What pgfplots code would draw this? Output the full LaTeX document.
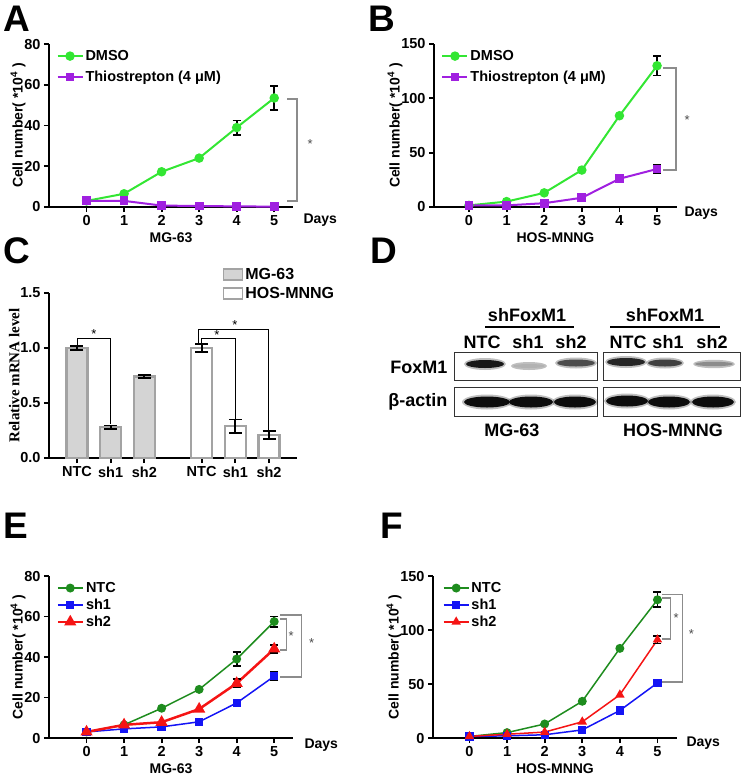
\documentclass[border=0pt]{standalone}
\usepackage{fontspec}
\setmainfont{Liberation Sans}
\newfontfamily\timesfont{Liberation Serif}
\usepackage{pgfplots}
\pgfplotsset{compat=1.18}

\definecolor{dmso}{HTML}{33E633}
\definecolor{thio}{HTML}{A020E0}
\definecolor{ntc}{HTML}{1E8C1E}
\definecolor{shone}{HTML}{1414F5}
\definecolor{shtwo}{HTML}{F51414}
\definecolor{barfill}{HTML}{D4D4D4}
\definecolor{baredge}{HTML}{A3A3A3}
\definecolor{brk}{HTML}{8C8C8C}

\newcommand\fsz[2]{\fontsize{#1}{#2}\selectfont\bfseries}
\newcommand\sig{\fontsize{13}{15}\selectfont\mdseries *}

% blot band: x, y, half width, half height, darkness
\newcommand\band[5]{%
  \fill[black, opacity=0.25] (#1pt,-#2pt) ellipse ({#3pt+2pt} and {#4pt+2pt});
  \fill[black!#5] (#1pt,-#2pt) ellipse (#3pt and #4pt);}

\pgfplotsset{
  panel/.style={
    scale only axis, clip=false,
    axis lines=left, axis line style={-, line width=2pt},
    tick style={line width=1.8pt, black}, major tick length=5pt, tick align=outside,
    ticklabel style={font=\fsz{14.5}{17}},
    /pgf/number format/assume math mode=true,
    label style={font=\fsz{14}{17}},
    error bars/error bar style={draw=black, line width=1.8pt},
    error bars/error mark options={draw=black, rotate=90, mark size=4pt, line width=1.8pt},
  },
  growth/.style={
    panel, xtick={0,...,5}, ymin=0,
    ylabel={Cell number( *10\textsuperscript{4} )},
    ylabel style={yshift=-8pt},
    every axis plot/.append style={line width=2pt},
    legend style={draw=none, fill=none, font=\fsz{14.5}{17}, anchor=north west,
      inner sep=0pt, row sep=5pt, cells={anchor=west}},
    legend image code/.code={\draw[mark repeat=2, mark phase=2, ##1]
      plot coordinates {(0pt,0pt) (12.5pt,0pt) (25pt,0pt)};},
  },
  circ/.style={mark=*, mark size=3.7pt},
  sq/.style={mark=square*, mark size=3.4pt},
  tri/.style={mark=triangle*, mark size=4.6pt},
  errs/.style={forget plot, draw=none, mark=none,
    error bars/.cd, y dir=both, y explicit},
}

\begin{document}
\begin{tikzpicture}
\path[use as bounding box] (0,0) rectangle (750pt,-777pt);

\begin{scope}[font=\fsz{37}{40}]
\node[anchor=base west, inner sep=0] at (3pt,-31pt) {A};
\node[anchor=base west, inner sep=0] at (368pt,-31pt) {B};
\node[anchor=base west, inner sep=0] at (3pt,-263pt) {C};
\node[anchor=base west, inner sep=0] at (370pt,-263pt) {D};
\node[anchor=base west, inner sep=0] at (3pt,-538pt) {E};
\node[anchor=base west, inner sep=0] at (380pt,-538pt) {F};
\end{scope}

% ---------- A
\begin{axis}[growth, at={(49pt,-207pt)}, width=244pt, height=163pt,
    xmin=-1, xmax=5.5, ymax=80, ytick={0,20,...,80},
    xlabel={MG-63},
    legend style={at={(axis description cs:0.03,0.975)}}]
\addplot[color=dmso, circ] coordinates {(0,3)(1,6.5)(2,17.3)(3,24)(4,39)(5,53.5)};
\addlegendentry{DMSO}
\addplot[color=thio, sq] coordinates {(0,3)(1,3)(2,0.7)(3,0.5)(4,0.3)(5,0.2)};
\addlegendentry{Thiostrepton (4 μM)}
\addplot[errs] coordinates {(4,39) +- (0,3.5) (5,53.5) +- (0,6)};
\draw[brk, line width=1.3pt] (axis cs:5.35,53) -- (axis cs:5.61,53) -- (axis cs:5.61,3) -- (axis cs:5.35,3);
\node[text=black!70] at (axis cs:5.96,30.9) {\sig};
\node[anchor=west, font=\fsz{14}{17}] at (rel axis cs:1,0) [xshift=7pt, yshift=-13pt] {Days};
\end{axis}

% ---------- B
\begin{axis}[growth, at={(434pt,-207pt)}, width=243pt, height=163pt,
    xmin=-0.93, xmax=5.53, ymax=150, ytick={0,50,100,150},
    xlabel={HOS-MNNG},
    legend style={at={(axis description cs:0.03,0.975)}}]
\addplot[color=dmso, circ] coordinates {(0,1.5)(1,5)(2,13)(3,34)(4,84)(5,130)};
\addlegendentry{DMSO}
\addplot[color=thio, sq] coordinates {(0,1.5)(1,1.5)(2,3.5)(3,8.5)(4,26)(5,35)};
\addlegendentry{Thiostrepton (4 μM)}
\addplot[errs] coordinates {(5,130) +- (0,9) (5,35) +- (0,4)};
\draw[brk, line width=1.3pt] (axis cs:5.16,128) -- (axis cs:5.5,128) -- (axis cs:5.5,34) -- (axis cs:5.16,34);
\node[text=black!70] at (axis cs:5.8,80) {\sig};
\node[anchor=west, font=\fsz{14}{17}] at (rel axis cs:1,0) [xshift=4pt, yshift=-6pt] {Days};
\end{axis}

% ---------- C
\begin{axis}[panel, at={(49pt,-458pt)}, width=248pt, height=165pt,
    xmin=-0.83, xmax=6.53, ymin=0, ymax=1.5, ytick={0,0.5,1,1.5},
    yticklabel style={/pgf/number format/.cd, fixed, fixed zerofill, precision=1},
    xtick={0,1,2,3.7,4.7,5.7}, xticklabels={NTC,sh1,sh2,NTC,sh1,sh2},
    ylabel={\timesfont\fontsize{15}{17}\selectfont\bfseries Relative mRNA level},
    ylabel style={yshift=-6pt},
    error bars/error mark options={draw=black, rotate=90, mark size=6.5pt, line width=1.8pt},
    legend style={draw=none, fill=none, font=\fsz{16}{19}, anchor=north west,
      at={(axis description cs:0.70,1.16)}, inner sep=0pt, row sep=2pt, cells={anchor=west}},
    legend image code/.code={\draw[#1, line width=1.5pt] (0pt,-5pt) rectangle (19pt,6pt);}]
\addplot[ybar, bar width=21pt, bar shift=0pt, fill=barfill, draw=baredge, line width=2.5pt,
    error bars/.cd, y dir=both, y explicit]
  coordinates {(0,1.0) +- (0,0.015) (1,0.28) +- (0,0.015) (2,0.74) +- (0,0.015)};
\addlegendentry{MG-63}
\addplot[ybar, bar width=21pt, bar shift=0pt, fill=white, draw=baredge, line width=2.5pt,
    error bars/.cd, y dir=both, y explicit]
  coordinates {(3.7,1.0) +- (0,0.035) (4.7,0.29) +- (0,0.06) (5.7,0.21) +- (0,0.035)};
\addlegendentry{HOS-MNNG}
\draw[black, line width=0.8pt] (axis cs:0,1.02) -- (axis cs:0,1.09) -- (axis cs:1,1.09) -- (axis cs:1,0.31);
\node at (axis cs:0.5,1.13) {\sig};
\draw[black, line width=0.8pt] (axis cs:3.7,1.04) -- (axis cs:3.7,1.09) -- (axis cs:4.7,1.09) -- (axis cs:4.7,0.35);
\node at (axis cs:4.15,1.12) {\sig};
\draw[black, line width=0.8pt] (axis cs:3.59,1.04) -- (axis cs:3.59,1.17) -- (axis cs:5.67,1.17) -- (axis cs:5.67,0.25);
\node at (axis cs:4.69,1.21) {\sig};
\end{axis}

% ---------- D (western blot)
\draw[black!80, line width=0.9pt] (454pt,-352pt) rectangle (597pt,-380pt);
\draw[black!80, line width=0.9pt] (454pt,-387pt) rectangle (597pt,-416pt);
\draw[black!80, line width=0.9pt] (603pt,-352pt) rectangle (740pt,-380pt);
\draw[black!80, line width=0.9pt] (603pt,-387pt) rectangle (740pt,-416pt);
\band{485}{364}{19}{4}{90}
\band{529}{366}{16}{2}{30}
\band{576}{363}{19}{3.5}{70}
\band{626}{362}{19}{4}{85}
\band{665}{363}{17}{3.5}{75}
\band{714}{364}{19}{2.2}{45}
\band{487}{402}{23}{5.5}{95}
\band{531}{402}{22}{5.5}{95}
\band{575}{402}{21}{5.5}{95}
\band{627}{401}{21}{5.5}{95}
\band{669}{402}{21}{5.5}{95}
\band{713}{402}{21}{5.5}{95}
\begin{scope}[font=\fsz{18}{20}]
\node at (527pt,-315pt) {shFoxM1};
\node at (665pt,-315pt) {shFoxM1};
\draw[line width=1.3pt] (485pt,-327pt) -- (574pt,-327pt);
\draw[line width=1.3pt] (610pt,-327pt) -- (720pt,-327pt);
\node at (482pt,-342pt) {NTC};
\node at (528pt,-342pt) {sh1};
\node at (571pt,-342pt) {sh2};
\node at (628pt,-342pt) {NTC};
\node at (668pt,-342pt) {sh1};
\node at (712pt,-342pt) {sh2};
\node[anchor=east] at (451pt,-367pt) {FoxM1};
\node[anchor=east] at (451pt,-402pt) {β-actin};
\node at (512pt,-430pt) {MG-63};
\node at (673pt,-430pt) {HOS-MNNG};
\end{scope}

% ---------- E
\begin{axis}[growth, at={(49pt,-738pt)}, width=244pt, height=162pt,
    xmin=-1, xmax=5.5, ymax=80, ytick={0,20,...,80},
    xlabel={MG-63}, legend style={row sep=1pt, at={(axis description cs:0.03,0.975)}}]
\addplot[color=ntc, circ, line width=1.5pt] coordinates {(0,3)(1,6.5)(2,14.7)(3,24)(4,39)(5,57.5)};
\addlegendentry{NTC}
\addplot[color=shone, sq, line width=1.5pt] coordinates {(0,3)(1,4.5)(2,5.5)(3,8)(4,17.3)(5,30.5)};
\addlegendentry{sh1}
\addplot[color=shtwo, tri, line width=2.5pt] coordinates {(0,3)(1,6.5)(2,7.8)(3,14.3)(4,27)(5,44)};
\addlegendentry{sh2}
\addplot[errs] coordinates {(4,39) +- (0,3.5) (5,57.5) +- (0,2.5) (5,30.5) +- (0,2) (4,27) +- (0,2) (5,44) +- (0,2)};
\draw[brk, line width=1.3pt] (axis cs:5.16,58.8) -- (axis cs:5.32,58.8) -- (axis cs:5.32,43.5) -- (axis cs:5.16,43.5);
\node[text=black!70] at (axis cs:5.45,50.4) {\sig};
\draw[brk, line width=1.3pt] (axis cs:5.16,60.7) -- (axis cs:5.72,60.7) -- (axis cs:5.72,30.1) -- (axis cs:5.16,30.1);
\node[text=black!70] at (axis cs:6.0,46.9) {\sig};
\node[anchor=west, font=\fsz{14}{17}] at (rel axis cs:1,0) [xshift=8pt, yshift=-7pt] {Days};
\end{axis}

% ---------- F
\begin{axis}[growth, at={(433pt,-738pt)}, width=244pt, height=162pt,
    xmin=-0.97, xmax=5.52, ymax=150, ytick={0,50,100,150},
    xlabel={HOS-MNNG}, legend style={row sep=1pt, at={(axis description cs:0.04,0.975)}}]
\addplot[color=ntc, circ, line width=1.5pt] coordinates {(0,1.5)(1,5)(2,13)(3,34)(4,83)(5,128)};
\addlegendentry{NTC}
\addplot[color=shone, sq, line width=1.5pt] coordinates {(0,1.5)(1,2)(2,3)(3,7.5)(4,25.5)(5,51)};
\addlegendentry{sh1}
\addplot[color=shtwo, tri, line width=1.5pt, mark size=4pt] coordinates {(0,1.5)(1,3.5)(2,5.5)(3,15)(4,40)(5,91)};
\addlegendentry{sh2}
\addplot[errs] coordinates {(5,128) +- (0,7) (5,51) +- (0,3) (5,91) +- (0,3.5)};
\draw[brk, line width=1.3pt] (axis cs:5.13,129.6) -- (axis cs:5.35,129.6) -- (axis cs:5.35,91.7) -- (axis cs:5.13,91.7);
\node[text=black!70] at (axis cs:5.5,111) {\sig};
\draw[brk, line width=1.3pt] (axis cs:5.13,133) -- (axis cs:5.66,133) -- (axis cs:5.66,51.9) -- (axis cs:5.13,51.9);
\node[text=black!70] at (axis cs:5.9,96) {\sig};
\node[anchor=west, font=\fsz{14}{17}] at (rel axis cs:1,0) [xshift=6pt, yshift=-5pt] {Days};
\end{axis}
\end{tikzpicture}
\end{document}
